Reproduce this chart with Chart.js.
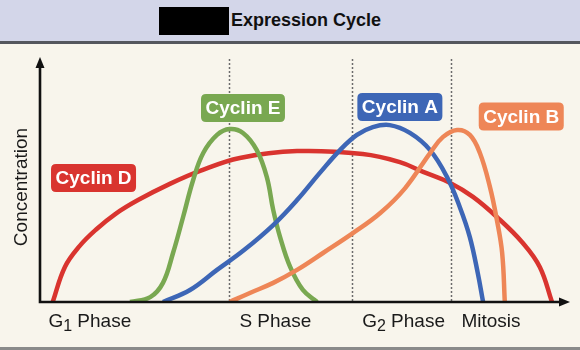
<!DOCTYPE html>
<html>
<head>
<meta charset="utf-8">
<script src="https://cdn.jsdelivr.net/npm/chart.js@4/dist/chart.umd.min.js"></script>
<style>
  body { margin: 0; width: 580px; height: 350px; background: #f8f5ec; position: relative; overflow: hidden;
         font-family: "Liberation Sans", Arial, sans-serif; }
  #head { position: absolute; left: 0; top: 0; width: 580px; height: 41px; background: #d3d6e9;
          border-bottom: 3px solid #55575e; }
  #blk { position: absolute; left: 159px; top: 7px; width: 70px; height: 28px; background: #000; }
  #ttl { position: absolute; left: 231px; top: 10px; font-weight: bold; font-size: 18px; color: #111; }
  #foot { position: absolute; left: 0; top: 347px; width: 580px; height: 3px; background: #8a8a8a; }
  #wrap { position: absolute; left: 0; top: 44px; width: 580px; height: 303px; }
</style>
</head>
<body>
<div id="head"><div id="blk"></div><div id="ttl">Expression Cycle</div></div>
<div id="wrap"><canvas id="myChart" width="580" height="303"></canvas></div>
<div id="foot"></div>
<script>
// time runs 0..100 along the cycle, concentration 0..100
var cyclinD_x = [2.4, 4.7, 7.5, 10.7, 14.2, 18.5, 24.5, 30.2, 37.7, 48.5, 60.9, 67.9, 72.3, 77.4, 81.7, 86.2, 91.1, 94.3, 96.6];
var cyclinD_y = [0, 14.3, 22.9, 29.8, 35.9, 41.6, 48.2, 53.5, 58.8, 61.6, 60.4, 57.1, 53.1, 48.6, 42.9, 34.7, 24.1, 14.3, 0];

var cyclinE_x = [17.0, 20.8, 23.2, 25.1, 27.0, 28.9, 30.8, 33.4, 35.8, 38.3, 40.9, 42.8, 44.0, 45.3, 47.2, 49.6, 52.3];
var cyclinE_y = [0, 2.0, 7.8, 20.0, 34.7, 49.8, 60.8, 68.2, 70.6, 69.0, 62.0, 51.0, 37.6, 26.5, 14.3, 4.9, 0];

var cyclinA_x = [23.2, 28.3, 33.4, 38.5, 44.0, 48.5, 52.8, 56.6, 59.8, 62.8, 66.0, 69.8, 73.6, 76.8, 79.2, 81.1, 82.6, 83.6];
var cyclinA_y = [0, 4.9, 13.1, 21.2, 31.4, 41.6, 52.7, 62.0, 68.2, 71.4, 72.2, 69.0, 62.0, 51.0, 38.8, 26.5, 11.8, 0];

var cyclinB_x = [35.8, 39.6, 44.0, 48.5, 53.4, 59.1, 64.2, 68.9, 73.6, 76.0, 78.7, 81.1, 83.0, 84.9, 86.2, 87.2, 87.7];
var cyclinB_y = [0, 3.7, 7.8, 13.1, 20.0, 28.2, 36.3, 46.5, 60.8, 67.3, 70.2, 68.2, 60.8, 46.9, 33.5, 20.0, 0];

var phaseBounds = [35.7, 58.9, 77.5];
var phaseNames = ["G", "S Phase", "G", "Mitosis"];
var phaseSubs = ["1", "", "2", ""];
var phaseCenters = [9.4, 44.4, 68.6, 85.1];

var seriesNames = ["Cyclin D", "Cyclin E", "Cyclin A", "Cyclin B"];
var seriesColors = ["#d9342f", "#79a851", "#3d66b6", "#ee8657"];
// where each name tag sits (x, y in data units)
var tagX = [10.1, 38.3, 67.9, 90.8];
var tagY = [50.6, 79.2, 79.6, 75.7];

function pts(xs, ys) {
    var out = [];
    for (var i = 0; i < xs.length; i++) out.push({x: xs[i], y: ys[i]});
    return out;
}

function roundRect(ctx, x, y, w, h, r) {
    ctx.beginPath();
    ctx.moveTo(x + r, y);
    ctx.lineTo(x + w - r, y);
    ctx.quadraticCurveTo(x + w, y, x + w, y + r);
    ctx.lineTo(x + w, y + h - r);
    ctx.quadraticCurveTo(x + w, y + h, x + w - r, y + h);
    ctx.lineTo(x + r, y + h);
    ctx.quadraticCurveTo(x, y + h, x, y + h - r);
    ctx.lineTo(x, y + r);
    ctx.quadraticCurveTo(x, y, x + r, y);
    ctx.closePath();
}

var decor = {
    id: "decor",
    beforeDatasetsDraw: function(chart) {
        var ctx = chart.ctx, xs = chart.scales.x, a = chart.chartArea;
        ctx.save();
        ctx.strokeStyle = "#6b6b6b";
        ctx.lineWidth = 1.5;
        ctx.setLineDash([2, 2]);
        phaseBounds.forEach(function(v) {
            var px = Math.round(xs.getPixelForValue(v)) + 0.5;
            ctx.beginPath();
            ctx.moveTo(px, a.top + 2);
            ctx.lineTo(px, a.bottom);
            ctx.stroke();
        });
        ctx.restore();
    },
    afterDatasetsDraw: function(chart) {
        var ctx = chart.ctx, xs = chart.scales.x, ys = chart.scales.y, a = chart.chartArea;
        ctx.save();
        // axes with arrows
        ctx.strokeStyle = "#111";
        ctx.fillStyle = "#111";
        ctx.lineWidth = 2.6;
        ctx.beginPath();
        ctx.moveTo(a.left, a.top + 8);
        ctx.lineTo(a.left, a.bottom);
        ctx.lineTo(a.right - 8, a.bottom);
        ctx.stroke();
        ctx.beginPath();
        ctx.moveTo(a.left, a.top);
        ctx.lineTo(a.left - 4.5, a.top + 11);
        ctx.lineTo(a.left + 4.5, a.top + 11);
        ctx.closePath();
        ctx.fill();
        ctx.beginPath();
        ctx.moveTo(a.right, a.bottom);
        ctx.lineTo(a.right - 11, a.bottom - 4.5);
        ctx.lineTo(a.right - 11, a.bottom + 4.5);
        ctx.closePath();
        ctx.fill();

        // phase labels
        ctx.fillStyle = "#1a1a1a";
        ctx.textBaseline = "alphabetic";
        ctx.textAlign = "left";
        for (var i = 0; i < phaseNames.length; i++) {
            var main = phaseNames[i], sub = phaseSubs[i];
            ctx.font = "19px 'Liberation Sans', Arial, sans-serif";
            var w1 = ctx.measureText(main).width;
            var w2 = 0, w3 = 0;
            if (sub) {
                ctx.font = "16px 'Liberation Sans', Arial, sans-serif";
                w2 = ctx.measureText(sub).width;
                ctx.font = "19px 'Liberation Sans', Arial, sans-serif";
                w3 = ctx.measureText(" Phase").width;
            }
            var total = w1 + w2 + w3;
            var x0 = xs.getPixelForValue(phaseCenters[i]) - total / 2;
            var base = a.bottom + 25;
            ctx.fillText(main, x0, base);
            if (sub) {
                ctx.font = "16px 'Liberation Sans', Arial, sans-serif";
                ctx.fillText(sub, x0 + w1, base + 4);
                ctx.font = "19px 'Liberation Sans', Arial, sans-serif";
                ctx.fillText(" Phase", x0 + w1 + w2, base);
            }
        }

        // y title
        ctx.save();
        ctx.translate(27, 143);
        ctx.rotate(-Math.PI / 2);
        ctx.textAlign = "center";
        ctx.font = "19px 'Liberation Sans', Arial, sans-serif";
        ctx.fillText("Concentration", 0, 0);
        ctx.restore();

        // name tags
        ctx.font = "bold 19px 'Liberation Sans', Arial, sans-serif";
        ctx.textAlign = "center";
        ctx.textBaseline = "middle";
        for (var j = 0; j < seriesNames.length; j++) {
            var cx = xs.getPixelForValue(tagX[j]);
            var cy = ys.getPixelForValue(tagY[j]);
            var tw = ctx.measureText(seriesNames[j]).width + 9;
            ctx.fillStyle = seriesColors[j];
            roundRect(ctx, cx - tw / 2, cy - 14, tw, 28, 5);
            ctx.fill();
            ctx.fillStyle = "#fff";
            ctx.fillText(seriesNames[j], cx, cy + 1);
        }
        ctx.restore();
    }
};

var allX = [cyclinD_x, cyclinE_x, cyclinA_x, cyclinB_x];
var allY = [cyclinD_y, cyclinE_y, cyclinA_y, cyclinB_y];
var sets = [];
for (var k = 0; k < seriesNames.length; k++) {
    sets.push({
        label: seriesNames[k],
        data: pts(allX[k], allY[k]),
        borderColor: seriesColors[k],
        borderWidth: 4.5,
        pointRadius: 0,
        fill: false,
        tension: 0.4,
        order: seriesNames.length - k
    });
}

var chart = new Chart(document.getElementById("myChart"), {
    type: "line",
    data: { datasets: sets },
    options: {
        responsive: false,
        animation: false,
        layout: { padding: { left: 40, right: 10, top: 13, bottom: 45 } },
        plugins: { legend: { display: false }, tooltip: { enabled: false } },
        scales: {
            x: { type: "linear", min: 0, max: 100, display: false },
            y: { min: 0, max: 100, display: false }
        }
    },
    plugins: [decor]
});
</script>
</body>
</html>
